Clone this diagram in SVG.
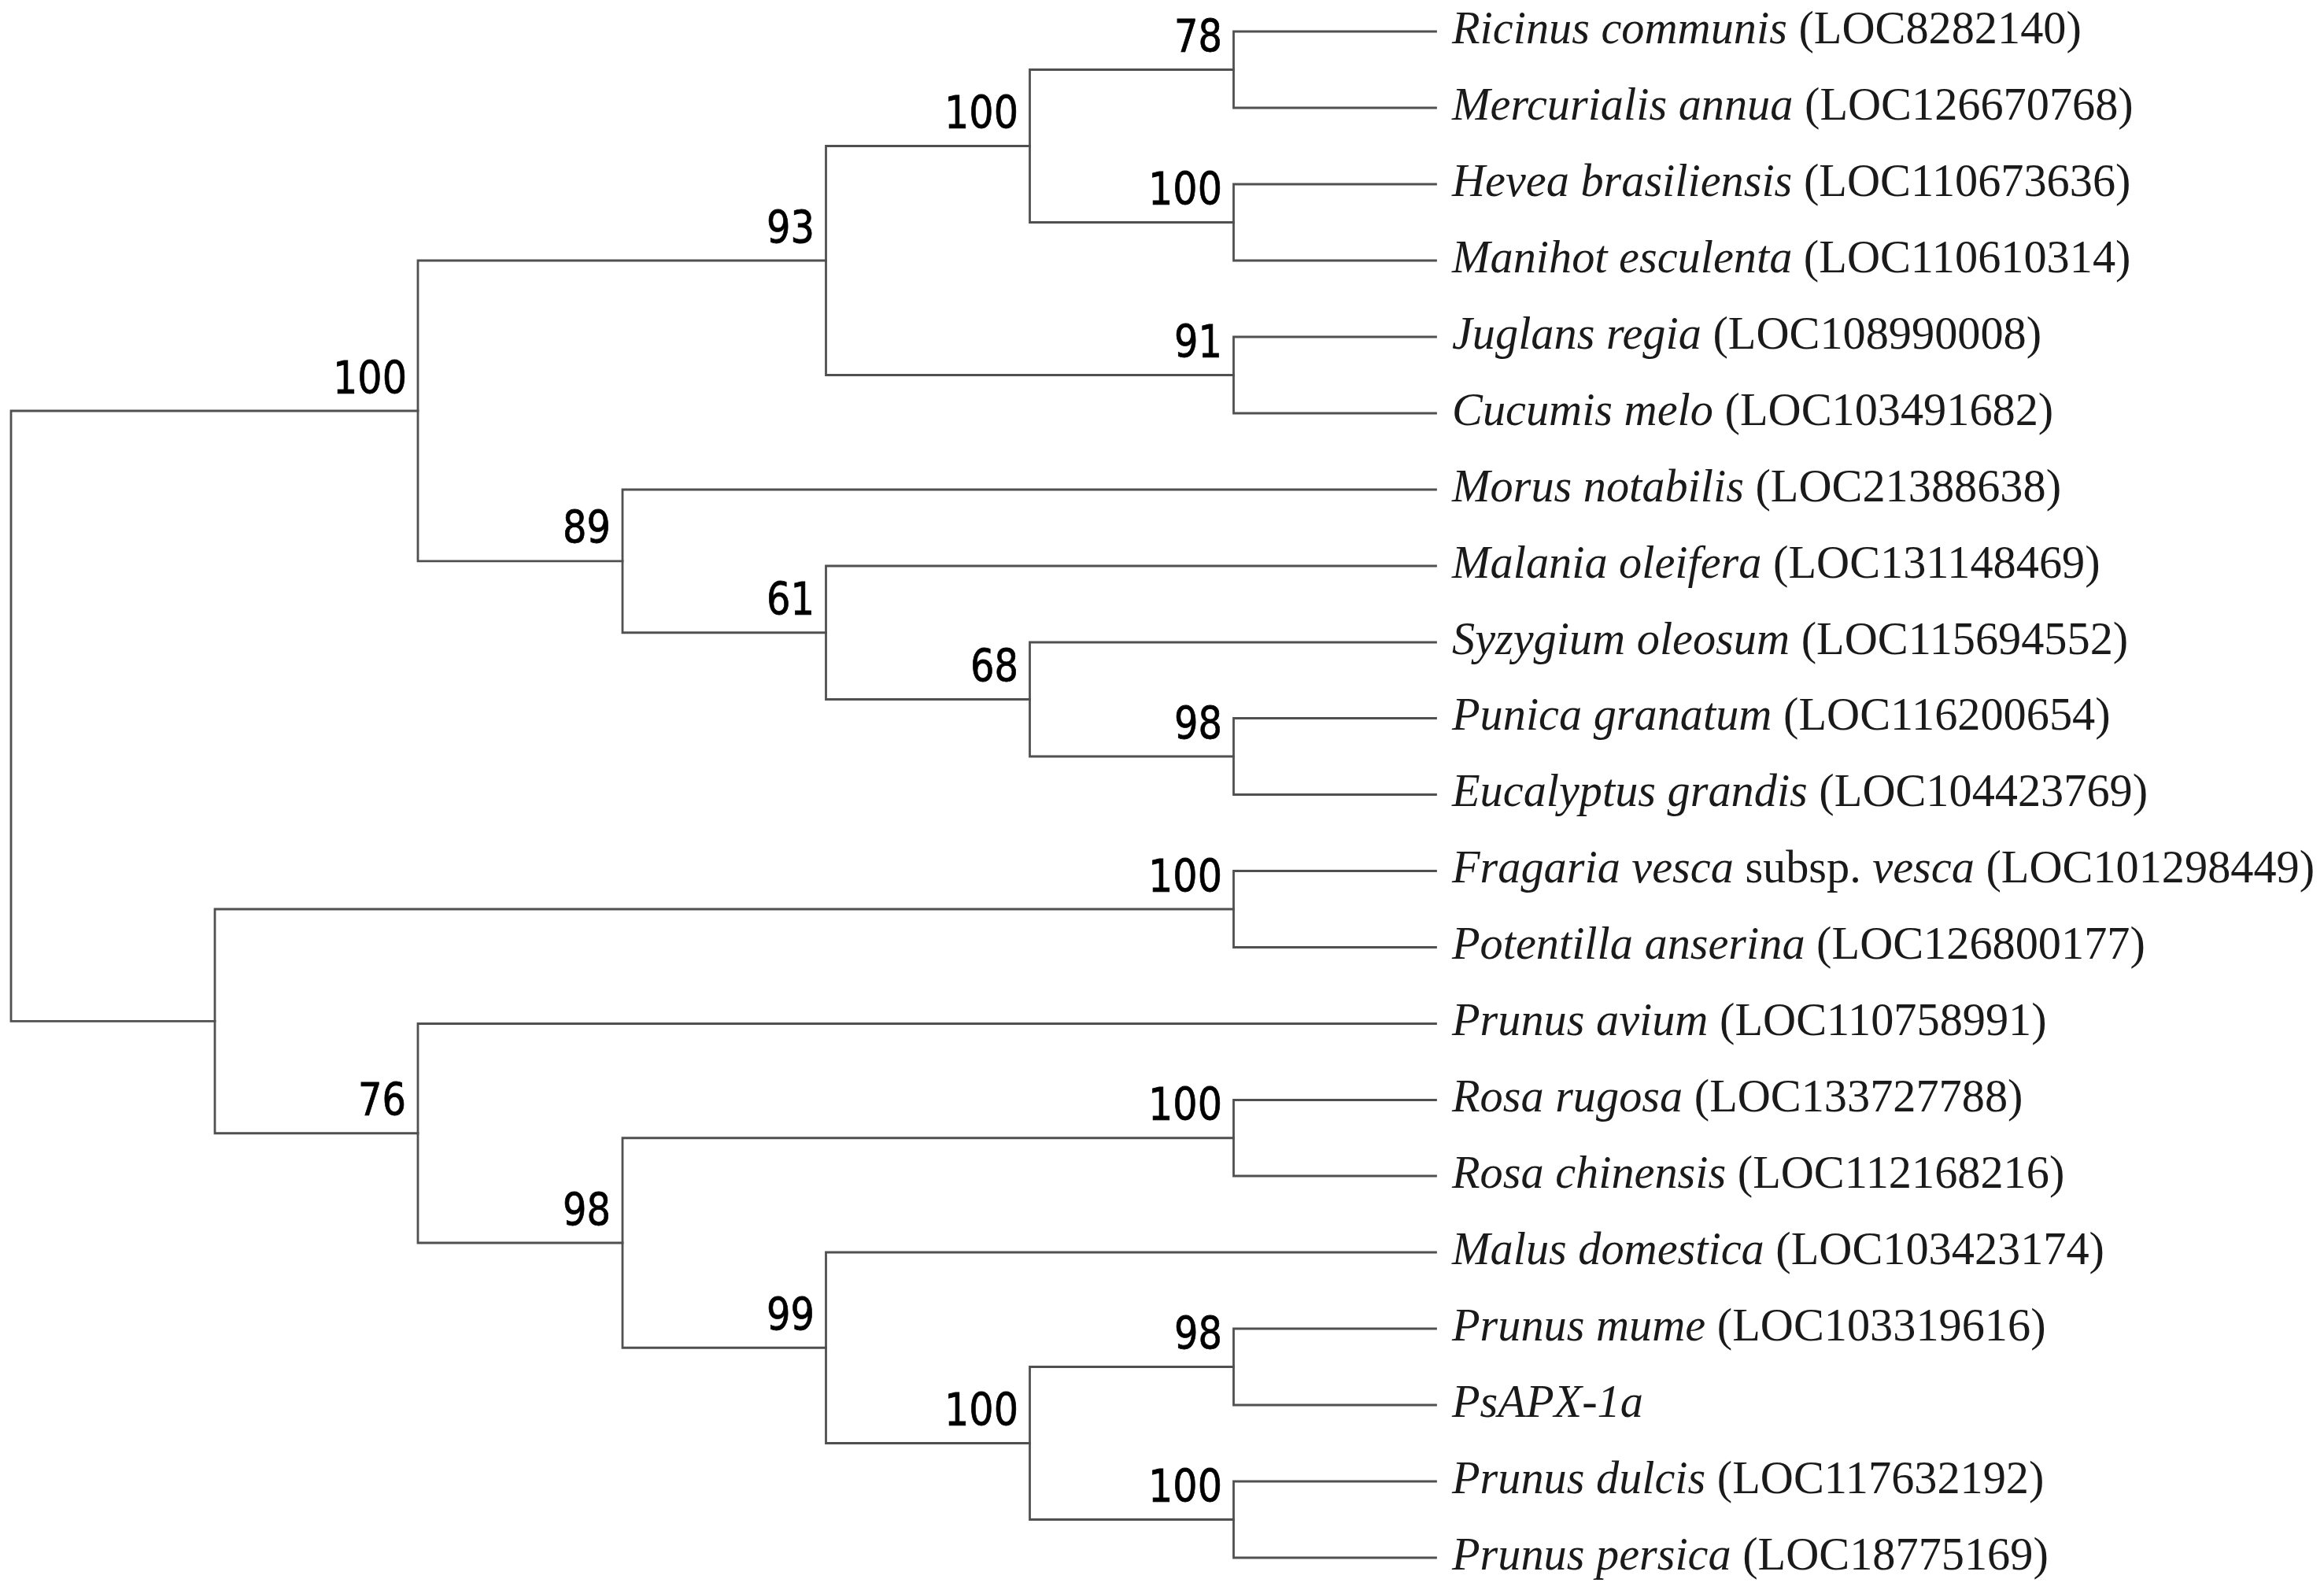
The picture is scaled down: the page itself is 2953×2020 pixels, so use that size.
<svg xmlns="http://www.w3.org/2000/svg" width="2953" height="2020" viewBox="0 0 2953 2020">
<style>
.br{fill:none;stroke:#505050;stroke-width:2.8;stroke-linecap:square}
.bs{font-family:"DejaVu Sans",Verdana,sans-serif;font-size:57px;fill:#000;stroke:#000;stroke-width:0.8;text-anchor:end}
.lf{font-family:"Liberation Serif","Times New Roman",serif;font-size:58.3px;fill:#1a1a1a}
.i{font-style:italic}
</style>
<rect width="2953" height="2020" fill="#fff"/>
<g id="connectors">
<path class="br" d="M531,522 H14 V1297.4 H273"/>
<path class="br" d="M1049.5,331 H531 V712.9 H791"/>
<path class="br" d="M1308.5,185.5 H1049.5 V476.5 H1567.5"/>
<path class="br" d="M1567.5,88.5 H1308.5 V282.5 H1567.5"/>
<path class="br" d="M1824.5,40 H1567.5 V137 H1824.5"/>
<path class="br" d="M1824.5,234 H1567.5 V331 H1824.5"/>
<path class="br" d="M1824.5,428 H1567.5 V525 H1824.5"/>
<path class="br" d="M1824.5,622 H791 V803.75 H1049.5"/>
<path class="br" d="M1824.5,719 H1049.5 V888.5 H1308.5"/>
<path class="br" d="M1824.5,816 H1308.5 V961 H1567.5"/>
<path class="br" d="M1824.5,912.5 H1567.5 V1009.5 H1824.5"/>
<path class="br" d="M1567.5,1155 H273 V1439.75 H531"/>
<path class="br" d="M1824.5,1106.5 H1567.5 V1203.5 H1824.5"/>
<path class="br" d="M1824.5,1300.5 H531 V1579 H791"/>
<path class="br" d="M1567.5,1445.75 H791 V1712.25 H1049.5"/>
<path class="br" d="M1824.5,1397.5 H1567.5 V1494 H1824.5"/>
<path class="br" d="M1824.5,1591 H1049.5 V1833.5 H1308.5"/>
<path class="br" d="M1567.5,1736.5 H1308.5 V1930.5 H1567.5"/>
<path class="br" d="M1824.5,1688 H1567.5 V1785 H1824.5"/>
<path class="br" d="M1824.5,1882 H1567.5 V1979 H1824.5"/>
</g>
<g id="bootstrap">
<g id="n_J"><text class="bs" x="517" y="500" textLength="94" lengthAdjust="spacingAndGlyphs">100</text></g>
<g id="n_E"><text class="bs" x="1035" y="309" textLength="61" lengthAdjust="spacingAndGlyphs">93</text></g>
<g id="n_C"><text class="bs" x="1294" y="163" textLength="94" lengthAdjust="spacingAndGlyphs">100</text></g>
<g id="n_A"><text class="bs" x="1553" y="66" textLength="61" lengthAdjust="spacingAndGlyphs">78</text></g>
<g id="n_B"><text class="bs" x="1553" y="260" textLength="94" lengthAdjust="spacingAndGlyphs">100</text></g>
<g id="n_D"><text class="bs" x="1553" y="454" textLength="61" lengthAdjust="spacingAndGlyphs">91</text></g>
<g id="n_I"><text class="bs" x="776" y="690" textLength="61" lengthAdjust="spacingAndGlyphs">89</text></g>
<g id="n_H"><text class="bs" x="1035" y="781" textLength="61" lengthAdjust="spacingAndGlyphs">61</text></g>
<g id="n_G"><text class="bs" x="1294" y="866" textLength="61" lengthAdjust="spacingAndGlyphs">68</text></g>
<g id="n_F"><text class="bs" x="1553" y="939" textLength="61" lengthAdjust="spacingAndGlyphs">98</text></g>
<g id="n_K"><text class="bs" x="1553" y="1133" textLength="94" lengthAdjust="spacingAndGlyphs">100</text></g>
<g id="n_R"><text class="bs" x="516" y="1417" textLength="61" lengthAdjust="spacingAndGlyphs">76</text></g>
<g id="n_L"><text class="bs" x="1553" y="1423" textLength="94" lengthAdjust="spacingAndGlyphs">100</text></g>
<g id="n_Q"><text class="bs" x="776" y="1557" textLength="61" lengthAdjust="spacingAndGlyphs">98</text></g>
<g id="n_P"><text class="bs" x="1035" y="1690" textLength="61" lengthAdjust="spacingAndGlyphs">99</text></g>
<g id="n_O"><text class="bs" x="1294" y="1811" textLength="94" lengthAdjust="spacingAndGlyphs">100</text></g>
<g id="n_M"><text class="bs" x="1553" y="1714" textLength="61" lengthAdjust="spacingAndGlyphs">98</text></g>
<g id="n_N"><text class="bs" x="1553" y="1908" textLength="94" lengthAdjust="spacingAndGlyphs">100</text></g>
</g>
<g id="leaves">
<g id="leaf01"><text class="lf" x="1845" y="55"><tspan class="i">Ricinus communis</tspan> (LOC8282140)</text></g>
<g id="leaf02"><text class="lf" x="1845" y="152"><tspan class="i">Mercurialis annua</tspan> (LOC126670768)</text></g>
<g id="leaf03"><text class="lf" x="1845" y="249"><tspan class="i">Hevea brasiliensis</tspan> (LOC110673636)</text></g>
<g id="leaf04"><text class="lf" x="1845" y="346"><tspan class="i">Manihot esculenta</tspan> (LOC110610314)</text></g>
<g id="leaf05"><text class="lf" x="1845" y="443"><tspan class="i">Juglans regia</tspan> (LOC108990008)</text></g>
<g id="leaf06"><text class="lf" x="1845" y="540"><tspan class="i">Cucumis melo</tspan> (LOC103491682)</text></g>
<g id="leaf07"><text class="lf" x="1845" y="637"><tspan class="i">Morus notabilis</tspan> (LOC21388638)</text></g>
<g id="leaf08"><text class="lf" x="1845" y="734"><tspan class="i">Malania oleifera</tspan> (LOC131148469)</text></g>
<g id="leaf09"><text class="lf" x="1845" y="831"><tspan class="i">Syzygium oleosum</tspan> (LOC115694552)</text></g>
<g id="leaf10"><text class="lf" x="1845" y="927"><tspan class="i">Punica granatum</tspan> (LOC116200654)</text></g>
<g id="leaf11"><text class="lf" x="1845" y="1024"><tspan class="i">Eucalyptus grandis</tspan> (LOC104423769)</text></g>
<g id="leaf12"><text class="lf" x="1845" y="1121"><tspan class="i">Fragaria vesca</tspan> subsp. <tspan class="i">vesca</tspan> (LOC101298449)</text></g>
<g id="leaf13"><text class="lf" x="1845" y="1218"><tspan class="i">Potentilla anserina</tspan> (LOC126800177)</text></g>
<g id="leaf14"><text class="lf" x="1845" y="1315"><tspan class="i">Prunus avium</tspan> (LOC110758991)</text></g>
<g id="leaf15"><text class="lf" x="1845" y="1412"><tspan class="i">Rosa rugosa</tspan> (LOC133727788)</text></g>
<g id="leaf16"><text class="lf" x="1845" y="1509"><tspan class="i">Rosa chinensis</tspan> (LOC112168216)</text></g>
<g id="leaf17"><text class="lf" x="1845" y="1606"><tspan class="i">Malus domestica</tspan> (LOC103423174)</text></g>
<g id="leaf18"><text class="lf" x="1845" y="1703"><tspan class="i">Prunus mume</tspan> (LOC103319616)</text></g>
<g id="leaf19"><text class="lf i" x="1845" y="1800">PsAPX-1a</text></g>
<g id="leaf20"><text class="lf" x="1845" y="1897"><tspan class="i">Prunus dulcis</tspan> (LOC117632192)</text></g>
<g id="leaf21"><text class="lf" x="1845" y="1994"><tspan class="i">Prunus persica</tspan> (LOC18775169)</text></g>
</g>
</svg>
